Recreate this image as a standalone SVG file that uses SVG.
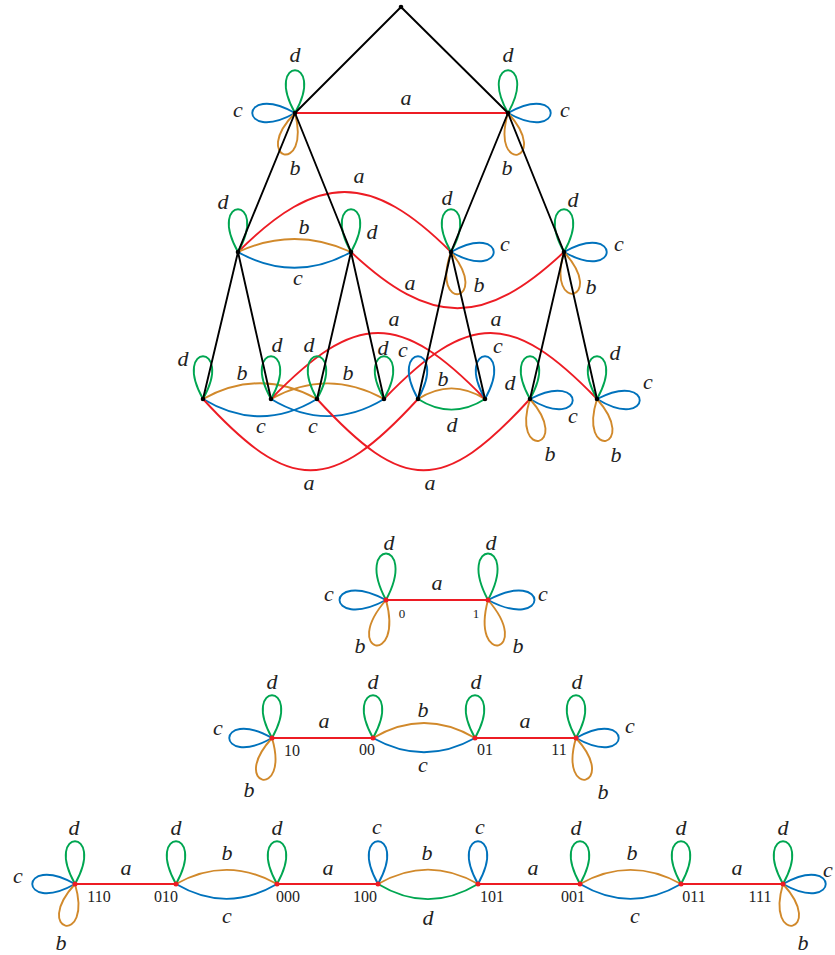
<svg xmlns="http://www.w3.org/2000/svg" xmlns:xlink="http://www.w3.org/1999/xlink" width="835" height="955" viewBox="0 0 835 955">
<style>
.k{stroke:#000;stroke-width:1.9;fill:none}
.r{stroke:#ed1c24;stroke-width:1.9;fill:none}
.g{stroke:#00a651;stroke-width:1.9;fill:none}
.bl{stroke:#0072bc;stroke-width:1.9;fill:none}
.o{stroke:#d1892b;stroke-width:1.9;fill:none}
.lbl{font-family:"Liberation Serif",serif;font-style:italic;font-size:22px;fill:#222;text-anchor:middle}
.num{font-family:"Liberation Serif",serif;font-size:16px;fill:#222;text-anchor:middle}
.dk{fill:#000}
.dr{fill:#ed1c24}
</style>
<defs>
<path id="loop" d="M0,0 C-32,-57 32,-57 0,0"/>
<path id="loopL" d="M0,0 C-33,-62 33,-62 0,0"/>
</defs>
<rect width="835" height="955" fill="#fff"/>
<g id="connectors">
<path class="r" d="M295,113 L508,113"/>
<path class="r" d="M238,252 C318,172 371,172 451,252"/>
<path class="r" d="M351,252 C431,327 484,327 564,252"/>
<path class="o" d="M238,252 C275,235 314,235 351,252"/>
<path class="bl" d="M238,252 C275,273 314,273 351,252"/>
<path class="o" d="M203,399 C241,378 279,378 317,399"/>
<path class="bl" d="M203,399 C241,422 279,422 317,399"/>
<path class="o" d="M271,399 C309,378 346,378 384,399"/>
<path class="bl" d="M271,399 C309,422 346,422 384,399"/>
<path class="o" d="M418,399 C440,385 463,385 485,399"/>
<path class="g" d="M418,399 C440,413 463,413 485,399"/>
<path class="r" d="M271,399 C356,311 400,311 485,399"/>
<path class="r" d="M384,399 C469,311 512,311 597,399"/>
<path class="r" d="M203,399 C290,494 331,494 418,399"/>
<path class="r" d="M317,399 C404,494 443,494 530,399"/>
<use href="#loop" class="g" transform="translate(295,113)"/>
<use href="#loop" class="bl" transform="translate(295,113) rotate(-90)"/>
<use href="#loop" class="o" transform="translate(295,113) rotate(195)"/>
<use href="#loop" class="g" transform="translate(508,113)"/>
<use href="#loop" class="bl" transform="translate(508,113) rotate(90)"/>
<use href="#loop" class="o" transform="translate(508,113) rotate(167)"/>
<use href="#loop" class="g" transform="translate(238,252)"/>
<use href="#loop" class="g" transform="translate(351,252)"/>
<use href="#loop" class="g" transform="translate(451,252)"/>
<use href="#loop" class="bl" transform="translate(451,252) rotate(90)"/>
<use href="#loop" class="o" transform="translate(451,252) rotate(170)"/>
<use href="#loop" class="g" transform="translate(564,252)"/>
<use href="#loop" class="bl" transform="translate(564,252) rotate(90)"/>
<use href="#loop" class="o" transform="translate(564,252) rotate(167)"/>
<use href="#loop" class="g" transform="translate(203,399)"/>
<use href="#loop" class="g" transform="translate(271,399)"/>
<use href="#loop" class="g" transform="translate(317,399)"/>
<use href="#loop" class="g" transform="translate(384,399)"/>
<use href="#loop" class="bl" transform="translate(418,399)"/>
<use href="#loop" class="bl" transform="translate(485,399)"/>
<use href="#loop" class="g" transform="translate(530,399)"/>
<use href="#loop" class="bl" transform="translate(530,399) rotate(92)"/>
<use href="#loop" class="o" transform="translate(530,399) rotate(168)"/>
<use href="#loop" class="g" transform="translate(597,399)"/>
<use href="#loop" class="bl" transform="translate(597,399) rotate(92)"/>
<use href="#loop" class="o" transform="translate(597,399) rotate(168)"/>
<path class="k" d="M401,7 L295,113 M401,7 L508,113 M295,113 L238,252 M295,113 L351,252 M508,113 L451,252 M508,113 L564,252 M238,252 L203,399 M238,252 L271,399 M351,252 L317,399 M351,252 L384,399 M451,252 L418,399 M451,252 L485,399 M564,252 L530,399 M564,252 L597,399"/>
<path class="r" d="M386,600 L488,600"/>
<use href="#loopL" class="g" transform="translate(386,600)"/>
<use href="#loopL" class="bl" transform="translate(386,600) rotate(-90)"/>
<use href="#loopL" class="o" transform="translate(386,600) rotate(193)"/>
<use href="#loopL" class="g" transform="translate(488,600)"/>
<use href="#loopL" class="bl" transform="translate(488,600) rotate(90)"/>
<use href="#loopL" class="o" transform="translate(488,600) rotate(167)"/>
<path class="r" d="M272,738 L373,738 M475,738 L576,738"/>
<path class="o" d="M373,738 C407,718 441,718 475,738"/>
<path class="bl" d="M373,738 C407,757 441,757 475,738"/>
<use href="#loop" class="g" transform="translate(272,738)"/>
<use href="#loop" class="bl" transform="translate(272,738) rotate(-90)"/>
<use href="#loop" class="o" transform="translate(272,738) rotate(193)"/>
<use href="#loop" class="g" transform="translate(373,738)"/>
<use href="#loop" class="g" transform="translate(475,738)"/>
<use href="#loop" class="g" transform="translate(576,738)"/>
<use href="#loop" class="bl" transform="translate(576,738) rotate(90)"/>
<use href="#loop" class="o" transform="translate(576,738) rotate(167)"/>
<path class="r" d="M75,884 L176,884 M277,884 L378,884 M478,884 L580,884 M681,884 L783,884"/>
<path class="o" d="M176,884 C210,865 243,865 277,884"/>
<path class="bl" d="M176,884 C210,904 243,904 277,884"/>
<path class="o" d="M378,884 C411,865 445,865 478,884"/>
<path class="g" d="M378,884 C411,904 445,904 478,884"/>
<path class="o" d="M580,884 C614,865 647,865 681,884"/>
<path class="bl" d="M580,884 C614,904 647,904 681,884"/>
<use href="#loop" class="g" transform="translate(75,884)"/>
<use href="#loop" class="bl" transform="translate(75,884) rotate(-90)"/>
<use href="#loop" class="o" transform="translate(75,884) rotate(193)"/>
<use href="#loop" class="g" transform="translate(176,884)"/>
<use href="#loop" class="g" transform="translate(277,884)"/>
<use href="#loop" class="bl" transform="translate(378,884)"/>
<use href="#loop" class="bl" transform="translate(478,884)"/>
<use href="#loop" class="g" transform="translate(580,884)"/>
<use href="#loop" class="g" transform="translate(681,884)"/>
<use href="#loop" class="g" transform="translate(783,884)"/>
<use href="#loop" class="bl" transform="translate(783,884) rotate(90)"/>
<use href="#loop" class="o" transform="translate(783,884) rotate(167)"/>
</g>
<g id="edge-labels">
<text class="lbl" x="295" y="62">d</text>
<text class="lbl" x="238" y="117">c</text>
<text class="lbl" x="295" y="175">b</text>
<text class="lbl" x="406" y="105">a</text>
<text class="lbl" x="508" y="62">d</text>
<text class="lbl" x="565" y="117">c</text>
<text class="lbl" x="507" y="175">b</text>
<text class="lbl" x="359" y="183">a</text>
<text class="lbl" x="223" y="209">d</text>
<text class="lbl" x="304" y="234">b</text>
<text class="lbl" x="372" y="239">d</text>
<text class="lbl" x="298" y="285">c</text>
<text class="lbl" x="410" y="290">a</text>
<text class="lbl" x="447" y="205">d</text>
<text class="lbl" x="505" y="251">c</text>
<text class="lbl" x="479" y="292">b</text>
<text class="lbl" x="573" y="207">d</text>
<text class="lbl" x="619" y="251">c</text>
<text class="lbl" x="591" y="294">b</text>
<text class="lbl" x="394" y="326">a</text>
<text class="lbl" x="496" y="326">a</text>
<text class="lbl" x="183" y="366">d</text>
<text class="lbl" x="277" y="352">d</text>
<text class="lbl" x="309" y="352">d</text>
<text class="lbl" x="383" y="355">d</text>
<text class="lbl" x="403" y="357">c</text>
<text class="lbl" x="498" y="353">c</text>
<text class="lbl" x="242" y="380">b</text>
<text class="lbl" x="348" y="380">b</text>
<text class="lbl" x="443" y="386">b</text>
<text class="lbl" x="261" y="433">c</text>
<text class="lbl" x="313" y="433">c</text>
<text class="lbl" x="452" y="432">d</text>
<text class="lbl" x="510" y="390">d</text>
<text class="lbl" x="573" y="423">c</text>
<text class="lbl" x="550" y="461">b</text>
<text class="lbl" x="615" y="360">d</text>
<text class="lbl" x="648" y="389">c</text>
<text class="lbl" x="616" y="462">b</text>
<text class="lbl" x="309" y="490">a</text>
<text class="lbl" x="430" y="490">a</text>
<text class="lbl" x="389" y="550">d</text>
<text class="lbl" x="491" y="550">d</text>
<text class="lbl" x="437" y="590">a</text>
<text class="lbl" x="329" y="601">c</text>
<text class="lbl" x="543" y="601">c</text>
<text class="lbl" x="360" y="653">b</text>
<text class="lbl" x="518" y="653">b</text>
<text class="lbl" x="272" y="689">d</text>
<text class="lbl" x="373" y="689">d</text>
<text class="lbl" x="476" y="689">d</text>
<text class="lbl" x="577" y="689">d</text>
<text class="lbl" x="218" y="735">c</text>
<text class="lbl" x="324" y="728">a</text>
<text class="lbl" x="423" y="717">b</text>
<text class="lbl" x="525" y="728">a</text>
<text class="lbl" x="630" y="733">c</text>
<text class="lbl" x="423" y="772">c</text>
<text class="lbl" x="249" y="797">b</text>
<text class="lbl" x="603" y="799">b</text>
<text class="lbl" x="74" y="835">d</text>
<text class="lbl" x="176" y="835">d</text>
<text class="lbl" x="277" y="835">d</text>
<text class="lbl" x="377" y="834">c</text>
<text class="lbl" x="480" y="834">c</text>
<text class="lbl" x="576" y="835">d</text>
<text class="lbl" x="681" y="835">d</text>
<text class="lbl" x="783" y="835">d</text>
<text class="lbl" x="18" y="883">c</text>
<text class="lbl" x="126" y="875">a</text>
<text class="lbl" x="227" y="860">b</text>
<text class="lbl" x="328" y="875">a</text>
<text class="lbl" x="427" y="860">b</text>
<text class="lbl" x="533" y="875">a</text>
<text class="lbl" x="632" y="860">b</text>
<text class="lbl" x="737" y="875">a</text>
<text class="lbl" x="828" y="877">c</text>
<text class="lbl" x="227" y="923">c</text>
<text class="lbl" x="428" y="925">d</text>
<text class="lbl" x="635" y="923">c</text>
<text class="lbl" x="61" y="950">b</text>
<text class="lbl" x="803" y="950">b</text>
</g>
<g id="n-root"><circle class="dk" cx="401" cy="7" r="2.3"/></g>
<g id="n-L1a"><circle class="dk" cx="295" cy="113" r="2.3"/></g>
<g id="n-L1b"><circle class="dk" cx="508" cy="113" r="2.3"/></g>
<g id="n-L2a"><circle class="dk" cx="238" cy="252" r="2.3"/></g>
<g id="n-L2b"><circle class="dk" cx="351" cy="252" r="2.3"/></g>
<g id="n-L2c"><circle class="dk" cx="451" cy="252" r="2.3"/></g>
<g id="n-L2d"><circle class="dk" cx="564" cy="252" r="2.3"/></g>
<g id="n-L3a"><circle class="dk" cx="203" cy="399" r="2.3"/></g>
<g id="n-L3b"><circle class="dk" cx="271" cy="399" r="2.3"/></g>
<g id="n-L3c"><circle class="dk" cx="317" cy="399" r="2.3"/></g>
<g id="n-L3d"><circle class="dk" cx="384" cy="399" r="2.3"/></g>
<g id="n-L3e"><circle class="dk" cx="418" cy="399" r="2.3"/></g>
<g id="n-L3f"><circle class="dk" cx="485" cy="399" r="2.3"/></g>
<g id="n-L3g"><circle class="dk" cx="530" cy="399" r="2.3"/></g>
<g id="n-L3h"><circle class="dk" cx="597" cy="399" r="2.3"/></g>
<g id="n-0"><circle class="dr" cx="386" cy="600" r="2.5"/><text class="num" x="402" y="618" style="font-size:13px">0</text></g>
<g id="n-1"><circle class="dr" cx="488" cy="600" r="2.5"/><text class="num" x="476" y="618" style="font-size:13px">1</text></g>
<g id="n-10"><circle class="dr" cx="272" cy="738" r="2.5"/><text class="num" x="292" y="756">10</text></g>
<g id="n-00"><circle class="dr" cx="373" cy="738" r="2.5"/><text class="num" x="367" y="755">00</text></g>
<g id="n-01"><circle class="dr" cx="475" cy="738" r="2.5"/><text class="num" x="485" y="755">01</text></g>
<g id="n-11"><circle class="dr" cx="576" cy="738" r="2.5"/><text class="num" x="559" y="755">11</text></g>
<g id="n-110"><circle class="dr" cx="75" cy="884" r="2.5"/><text class="num" x="99" y="902">110</text></g>
<g id="n-010"><circle class="dr" cx="176" cy="884" r="2.5"/><text class="num" x="166" y="902">010</text></g>
<g id="n-000"><circle class="dr" cx="277" cy="884" r="2.5"/><text class="num" x="288" y="902">000</text></g>
<g id="n-100"><circle class="dr" cx="378" cy="884" r="2.5"/><text class="num" x="365" y="902">100</text></g>
<g id="n-101"><circle class="dr" cx="478" cy="884" r="2.5"/><text class="num" x="492" y="902">101</text></g>
<g id="n-001"><circle class="dr" cx="580" cy="884" r="2.5"/><text class="num" x="573" y="902">001</text></g>
<g id="n-011"><circle class="dr" cx="681" cy="884" r="2.5"/><text class="num" x="694" y="902">011</text></g>
<g id="n-111"><circle class="dr" cx="783" cy="884" r="2.5"/><text class="num" x="760" y="902">111</text></g>
</svg>
